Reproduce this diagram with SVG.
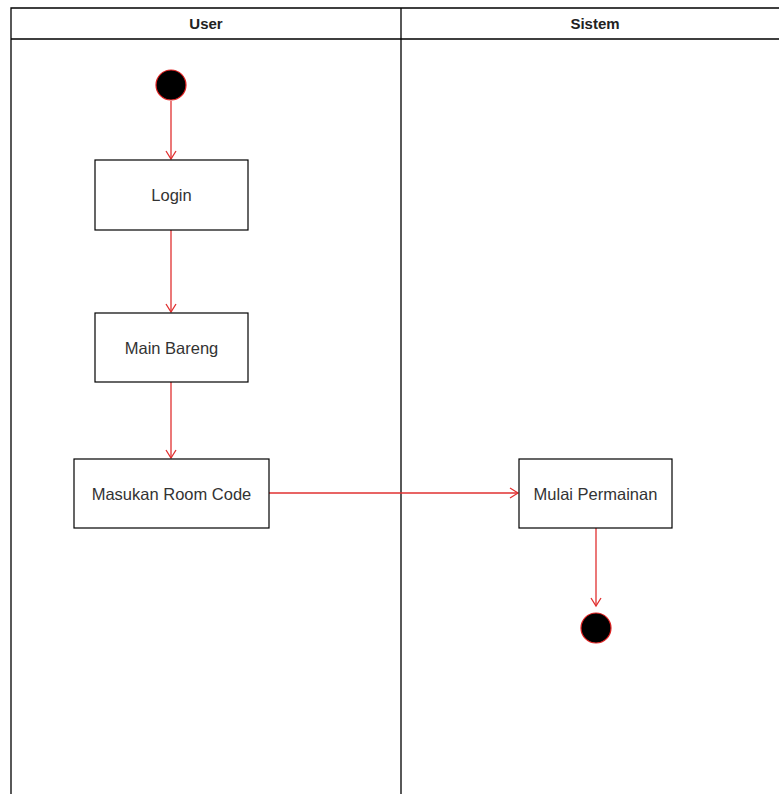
<svg xmlns="http://www.w3.org/2000/svg" width="779" height="794" viewBox="0 0 779 794">
<style>
.lane{fill:none;stroke:#000;stroke-width:1.3}
.hdr{font-family:"Liberation Sans",Arial,sans-serif;font-size:15px;font-weight:bold;fill:#222;text-anchor:middle}
.box{fill:#fff;stroke:#000;stroke-width:1.2}
.lbl{font-family:"Liberation Sans",Arial,sans-serif;font-size:16.5px;fill:#333;text-anchor:middle}
.dot{fill:#000;stroke:#e02020;stroke-width:1.2}
.edge{fill:none;stroke:#e03030;stroke-width:1.3;marker-end:url(#arr)}
</style>
<defs>
<marker id="arr" markerWidth="12" markerHeight="12" refX="10" refY="6" orient="auto" markerUnits="userSpaceOnUse">
<path d="M2,1 L10,6 L2,11" fill="none" stroke="#e03030" stroke-width="1.3"/>
</marker>
</defs>
<rect width="779" height="794" fill="#fff"/>
<g id="lanes">
<path class="lane" d="M11,794 V8 H779 M11,39 H779 M401,8 V794"/>
<text class="hdr" x="206" y="29">User</text>
<text class="hdr" x="595" y="29">Sistem</text>
</g>
<g id="edges">
<path class="edge" d="M171,101 V159"/>
<path class="edge" d="M171,230 V312"/>
<path class="edge" d="M171,382 V458"/>
<path class="edge" d="M269,493 H518"/>
<path class="edge" d="M596,528 V606"/>
</g>
<g id="start"><circle class="dot" cx="171" cy="85" r="15"/></g>
<g id="login"><rect class="box" x="95" y="160" width="153" height="70"/><text class="lbl" x="171.5" y="201">Login</text></g>
<g id="main"><rect class="box" x="95" y="313" width="153" height="69"/><text class="lbl" x="171.5" y="354">Main Bareng</text></g>
<g id="masukan"><rect class="box" x="74" y="459" width="195" height="69"/><text class="lbl" x="171.5" y="500">Masukan Room Code</text></g>
<g id="mulai"><rect class="box" x="519" y="459" width="153" height="69"/><text class="lbl" x="595.5" y="500">Mulai Permainan</text></g>
<g id="end"><circle class="dot" cx="596" cy="628" r="15"/></g>
</svg>
